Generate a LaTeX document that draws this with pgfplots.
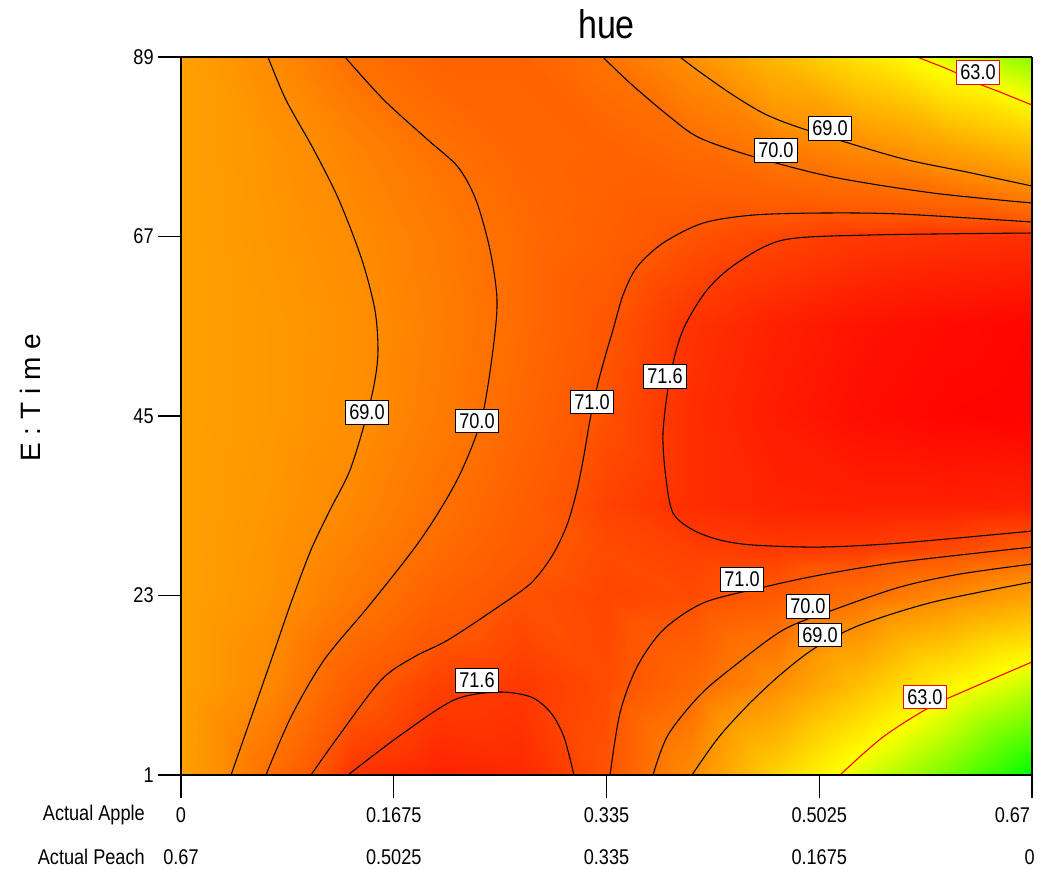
\documentclass[border=0pt]{standalone}
\usepackage{fontspec}
\setmainfont{Liberation Sans}
\newfontfamily\narrow[FakeStretch=0.85]{Liberation Sans}
\usepackage{pgfplots}
\pgfplotsset{compat=1.18}
\newcommand{\tickfont}{\narrow\fontsize{16}{17}\selectfont}
\begin{document}
\begin{tikzpicture}
\useasboundingbox (-135.75pt,-70.5pt) rectangle (656.25pt,581.25pt);
\begin{axis}[
  at={(0pt,0pt)}, anchor=south west,
  width=638.25pt, height=538.5pt, scale only axis,
  view={0}{90},
  xmin=0, xmax=0.67, ymin=1, ymax=89,
  xtick={0,0.1675,0.335,0.5025,0.67}, xticklabel=\empty,
  ytick={1,23,45,67,89}, yticklabels={1,23,45,67,89},
  ztick=\empty,
  tick pos=left, tick align=outside,
  major tick length=17pt,
  yticklabel style={font=\tickfont, anchor=east},
  axis line style={line width=1.3pt},
  major tick style={line width=0.9pt, black},
  colormap={hue}{rgb255(0pt)=(0,255,0); rgb255(65pt)=(255,255,0); rgb255(120pt)=(255,140,0); rgb255(140pt)=(255,85,0); rgb255(156pt)=(255,0,0)},
  point meta min=57, point meta max=72.6,
  clip=true,
]
\addplot3[surf, shader=interp, mesh/rows=11, mesh/cols=11, point meta=explicit]
 table[x=x, y=y, z=v, meta=v, row sep=\\] {
x y v \\
0 1 68.0 \\ 0.067 1 70.0 \\ 0.134 1 71.62 \\ 0.201 1 71.95 \\ 0.268 1 71.85 \\ 0.335 1 71.05 \\ 0.402 1 69.0 \\ 0.469 1 65.6 \\ 0.536 1 62.6 \\ 0.603 1 60.0 \\ 0.67 1 57.0 \\
0 12 68.0 \\ 0.067 12 69.1 \\ 0.134 12 70.7 \\ 0.201 12 71.4 \\ 0.268 12 71.55 \\ 0.335 12 71.2 \\ 0.402 12 70.3 \\ 0.469 12 68.9 \\ 0.536 12 66.5 \\ 0.603 12 64.0 \\ 0.67 12 62.0 \\
0 23 68.0 \\ 0.067 23 68.65 \\ 0.134 23 69.7 \\ 0.201 23 70.55 \\ 0.268 23 71.05 \\ 0.335 23 71.3 \\ 0.402 23 71.2 \\ 0.469 23 70.85 \\ 0.536 23 70.1 \\ 0.603 23 69.1 \\ 0.67 23 68.0 \\
0 28.5 68.0 \\ 0.067 28.5 68.6 \\ 0.134 28.5 69.4 \\ 0.201 28.5 70.2 \\ 0.268 28.5 70.8 \\ 0.335 28.5 71.2 \\ 0.402 28.5 71.4 \\ 0.469 28.5 71.5 \\ 0.536 28.5 71.45 \\ 0.603 28.5 71.2 \\ 0.67 28.5 70.8 \\
0 34 68.0 \\ 0.067 34 68.5 \\ 0.134 34 69.15 \\ 0.201 34 69.95 \\ 0.268 34 70.65 \\ 0.335 34 71.35 \\ 0.402 34 71.75 \\ 0.469 34 71.95 \\ 0.536 34 72.0 \\ 0.603 34 72.0 \\ 0.67 34 71.95 \\
0 45 68.0 \\ 0.067 45 68.4 \\ 0.134 45 68.85 \\ 0.201 45 69.6 \\ 0.268 45 70.35 \\ 0.335 45 71.1 \\ 0.402 45 71.75 \\ 0.469 45 72.1 \\ 0.536 45 72.35 \\ 0.603 45 72.5 \\ 0.67 45 72.55 \\
0 56 68.0 \\ 0.067 56 68.4 \\ 0.134 56 68.8 \\ 0.201 56 69.5 \\ 0.268 56 70.2 \\ 0.335 56 70.95 \\ 0.402 56 71.65 \\ 0.469 56 72.0 \\ 0.536 56 72.25 \\ 0.603 56 72.4 \\ 0.67 56 72.5 \\
0 67 68.0 \\ 0.067 67 68.5 \\ 0.134 67 68.98 \\ 0.201 67 69.6 \\ 0.268 67 70.2 \\ 0.335 67 70.6 \\ 0.402 67 71.05 \\ 0.469 67 71.3 \\ 0.536 67 71.55 \\ 0.603 67 71.65 \\ 0.67 67 71.7 \\
0 72.5 68.0 \\ 0.067 72.5 68.55 \\ 0.134 72.5 69.15 \\ 0.201 72.5 69.75 \\ 0.268 72.5 70.3 \\ 0.335 72.5 70.55 \\ 0.402 72.5 70.6 \\ 0.469 72.5 70.5 \\ 0.536 72.5 70.3 \\ 0.603 72.5 70.05 \\ 0.67 72.5 69.3 \\
0 78 68.0 \\ 0.067 78 68.6 \\ 0.134 78 69.3 \\ 0.201 78 70.0 \\ 0.268 78 70.4 \\ 0.335 78 70.5 \\ 0.402 78 70.2 \\ 0.469 78 69.6 \\ 0.536 78 69.0 \\ 0.603 78 67.9 \\ 0.67 78 66.6 \\
0 89 68.0 \\ 0.067 89 69.0 \\ 0.134 89 70.05 \\ 0.201 89 70.5 \\ 0.268 89 70.5 \\ 0.335 89 69.95 \\ 0.402 89 68.8 \\ 0.469 89 66.8 \\ 0.536 89 64.8 \\ 0.603 89 62.6 \\ 0.67 89 60.5 \\
};
% contour 69 (left)
\addplot3[black, line width=0.8pt, smooth] coordinates {
(0.0685,89.0,69) (0.0827,83.73,69) (0.1047,77.60,69) (0.1244,71.47,69) (0.1425,64.12,69) (0.1527,57.99,69) (0.1551,53.09,69) (0.1527,49.41,69) (0.1464,45.12,69) (0.1331,38.38,69) (0.1173,33.48,69) (0.1023,28.58,69) (0.0874,22.45,69) (0.0724,15.71,69) (0.0559,8.35,69) (0.0394,1,69)};
% contour 70 (left)
\addplot3[black, line width=0.8pt, smooth] coordinates {
(0.1291,89.0,70) (0.1598,83.73,70) (0.1945,78.83,70) (0.2181,75.52,70) (0.2323,71.47,70) (0.2433,65.35,70) (0.2488,59.22,70) (0.2456,53.09,70) (0.2370,44.88,70) (0.2212,38.38,70) (0.2039,33.48,70) (0.1827,28.58,70) (0.1472,21.59,70) (0.1126,15.09,70) (0.0866,8.11,70) (0.0669,1,70)};
% contour 70 (upper right)
\addplot3[black, line width=0.8pt, smooth] coordinates {
(0.3322,89.0,70) (0.3535,85.81,70) (0.3850,81.65,70) (0.4086,79.07,70) (0.4519,76.74,70) (0.5133,74.29,70) (0.5921,72.33,70) (0.67,71.11,70)};
% contour 69 (upper right)
\addplot3[black, line width=0.8pt, smooth] coordinates {
(0.3929,89.0,69) (0.4086,87.16,69) (0.4346,84.34,69) (0.4614,81.89,69) (0.4952,79.93,69) (0.5661,76.62,69) (0.6188,74.90,69) (0.67,73.19,69)};
% contour 63 (upper right)
\addplot3[red, line width=0.8pt, smooth] coordinates {
(0.5795,89.0,63) (0.6054,87.41,63) (0.6267,85.81,63) (0.6448,84.71,63) (0.67,83.12,63)};
% contour 71 (left and upper branch)
\addplot3[black, line width=0.8pt, smooth] coordinates {
(0.1023,1,71) (0.1236,5.66,71) (0.1575,12.64,71) (0.1834,15.46,71) (0.2102,17.55,71) (0.2496,21.59,71) (0.2756,24.53,71) (0.2921,27.84,71) (0.3039,31.64,71) (0.3118,35.93,71) (0.3173,40.22,71) (0.3220,44.51,71) (0.3283,49.04,71) (0.3354,53.09,71) (0.3401,55.54,71) (0.3480,59.83,71) (0.3590,63.26,71) (0.3795,66.20,71) (0.4110,68.65,71) (0.4503,69.63,71) (0.5031,69.88,71) (0.5661,69.76,71) (0.67,68.78,71)};
% contour 71.6 (right, closed on the edge)
\addplot3[black, line width=0.8pt, smooth] coordinates {
(0.67,67.43,71.6) (0.5401,67.18,71.6) (0.4740,66.57,71.6) (0.4377,63.75,71.6) (0.4141,60.44,71.6) (0.3952,55.54,71.6) (0.3850,49.78,71.6) (0.3795,42.92,71.6) (0.3818,37.40,71.6) (0.3874,33.11,71.6) (0.4031,31.03,71.6) (0.4244,29.80,71.6) (0.4503,29.19,71.6) (0.5031,28.94,71.6) (0.5661,29.43,71.6) (0.67,30.90,71.6)};
% contour 71.6 (bottom dome)
\addplot3[black, line width=0.8pt, smooth] coordinates {
(0.1315,1,71.6) (0.1708,5.66,71.6) (0.2149,10.19,71.6) (0.2496,11.17,71.6) (0.2756,10.56,71.6) (0.2913,8.60,71.6) (0.3015,5.66,71.6) (0.3094,1,71.6)};
% contour 71 (lower right)
\addplot3[black, line width=0.8pt, smooth] coordinates {
(0.3378,1,71) (0.3456,8.60,71) (0.3590,14.24,71) (0.3795,18.77,71) (0.4110,22.08,71) (0.4558,23.92,71) (0.5031,25.51,71) (0.5661,27.11,71) (0.67,28.94,71)};
% contour 70 (lower right)
\addplot3[black, line width=0.8pt, smooth] coordinates {
(0.3716,1,70) (0.3834,5.90,70) (0.4086,10.80,70) (0.4346,14.24,70) (0.4740,18.77,70) (0.5133,21.22,70) (0.5661,24.04,70) (0.6133,25.63,70) (0.67,26.86,70)};
% contour 69 (lower right)
\addplot3[black, line width=0.8pt, smooth] coordinates {
(0.4023,1,69) (0.4228,5.53,69) (0.4464,9.58,69) (0.4716,13.26,69) (0.4992,16.57,69) (0.5346,19.38,69) (0.5921,22.20,69) (0.67,24.65,69)};
% contour 63 (lower right)
\addplot3[red, line width=0.8pt, smooth] coordinates {
(0.5188,1,63) (0.5527,5.66,63) (0.5897,9.33,63) (0.6188,11.42,63) (0.67,14.85,63)};
% contour labels
\tikzset{clab/.style={draw=black, line width=0.7pt, fill=white, inner xsep=2.8pt, inner ysep=3.3pt, font=\tickfont}}
\node[clab] at (axis cs:0.1464,45.49,80) {69.0};
\node[clab] at (axis cs:0.2330,44.39,80) {70.0};
\node[clab] at (axis cs:0.3236,46.72,80) {71.0};
\node[clab] at (axis cs:0.3811,49.90,80) {71.6};
\node[clab] at (axis cs:0.4684,77.60,80) {70.0};
\node[clab] at (axis cs:0.5110,80.30,80) {69.0};
\node[clab, draw=red] at (axis cs:0.6275,87.16,80) {63.0};
\node[clab] at (axis cs:0.4417,25.02,80) {71.0};
\node[clab] at (axis cs:0.4936,21.71,80) {70.0};
\node[clab] at (axis cs:0.5031,18.16,80) {69.0};
\node[clab] at (axis cs:0.2330,12.64,80) {71.6};
\node[clab, draw=red] at (axis cs:0.5857,10.56,80) {63.0};
\end{axis}
% x tick label rows
\begin{scope}[every node/.style={font=\tickfont, inner sep=0pt}]
\node[anchor=east] at (-27pt,-30pt) {Actual Apple};
\node[anchor=east] at (-27pt,-61.5pt) {Actual Peach};
\node at (0pt,-30pt) {0};
\node at (159.5625pt,-30pt) {0.1675};
\node at (319.125pt,-30pt) {0.335};
\node at (478.6875pt,-30pt) {0.5025};
\node[anchor=east] at (637pt,-30pt) {0.67};
\node at (0pt,-61.5pt) {0.67};
\node at (159.5625pt,-61.5pt) {0.5025};
\node at (319.125pt,-61.5pt) {0.335};
\node at (478.6875pt,-61.5pt) {0.1675};
\node at (636.5pt,-61.5pt) {0};
\end{scope}
\node[rotate=90, font=\fontsize{21}{22}\selectfont] at (-113.25pt,282.75pt) {E : T i m e};
\node[anchor=base, font=\narrow\fontsize{30}{32}\selectfont] at (319.125pt,552pt) {hue};
\end{tikzpicture}
\end{document}
